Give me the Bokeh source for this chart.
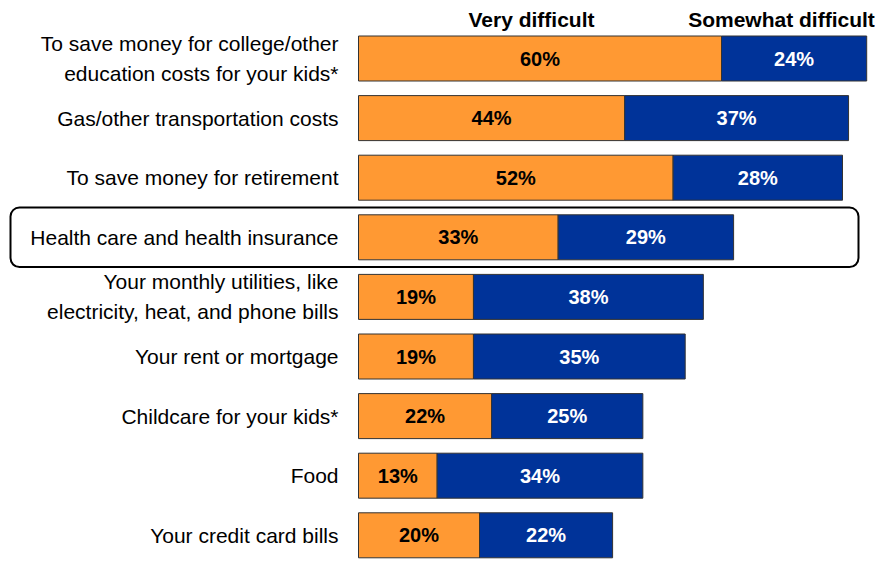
from bokeh.plotting import figure
from bokeh.models import ColumnDataSource, Range1d, Label, BoxAnnotation
from bokeh.core.properties import value
from bokeh.embed import file_html
from bokeh.resources import INLINE

# ---- data ----
categories = [
    "To save money for college/other\neducation costs for your kids*",
    "Gas/other transportation costs",
    "To save money for retirement",
    "Health care and health insurance",
    "Your monthly utilities, like\nelectricity, heat, and phone bills",
    "Your rent or mortgage",
    "Childcare for your kids*",
    "Food",
    "Your credit card bills",
]
very_difficult = [60, 44, 52, 33, 19, 19, 22, 13, 20]
somewhat_difficult = [24, 37, 28, 29, 38, 35, 25, 34, 22]
series_names = ["Very difficult", "Somewhat difficult"]
highlight_category = "Health care and health insurance"

# ---- styles ----
ORANGE = "#FF9933"
BLUE = "#003399"
FONT = "Liberation Sans"

W, H = 875, 560
PX_PER_PCT = 6.05
ZERO_PX = 358
ROW_PX = 59.6
FIRST_ROW_PX = 58

rows = list(range(len(categories)))
totals = [v + s for v, s in zip(very_difficult, somewhat_difficult)]

src = ColumnDataSource(dict(
    y=rows,
    cat=categories,
    vend=very_difficult,
    send=totals,
    vmid=[v / 2 for v in very_difficult],
    smid=[v + s / 2 for v, s in zip(very_difficult, somewhat_difficult)],
    vlab=[f"{v}%" for v in very_difficult],
    slab=[f"{s}%" for s in somewhat_difficult],
))


def px_x(px):
    return (px - ZERO_PX) / PX_PER_PCT


def px_y(px):
    return (px - FIRST_ROW_PX) / ROW_PX


p = figure(width=W, height=H, output_backend="svg", toolbar_location=None,
           x_range=Range1d(px_x(0), px_x(W)), y_range=Range1d(px_y(H), px_y(0)),
           min_border=0, outline_line_color=None, background_fill_color="white",
           border_fill_color="white")
p.axis.visible = False
p.grid.visible = False

# highlight box around the chosen row
hi = categories.index(highlight_category)
box = BoxAnnotation(left=px_x(10), right=px_x(858),
                    top=hi - 0.5, bottom=hi + 0.5,
                    fill_color=None, fill_alpha=0, line_color="black",
                    line_alpha=1, line_width=2, border_radius=9)
p.add_layout(box)

bar_h = 45 / ROW_PX
p.hbar(y="y", left=0, right="vend", height=bar_h, source=src,
       fill_color=ORANGE, line_color="#333333", line_width=1)
p.hbar(y="y", left="vend", right="send", height=bar_h, source=src,
       fill_color=BLUE, line_color="#333333", line_width=1)

p.text(x="vmid", y="y", text="vlab", source=src, text_align="center",
       text_baseline="middle", text_font=value(FONT), text_font_size="20px",
       text_font_style="bold", text_color="black")
p.text(x="smid", y="y", text="slab", source=src, text_align="center",
       text_baseline="middle", text_font=value(FONT), text_font_size="20px",
       text_font_style="bold", text_color="white")

p.text(x=px_x(338), y="y", text="cat", source=src, text_align="right",
       text_baseline="middle", text_font=value(FONT), text_font_size="21px",
       text_color="black", text_line_height=1.3)

# headers
p.add_layout(Label(x=px_x(531), y=px_y(18.5),
                   text=series_names[0], text_align="center", text_baseline="middle",
                   text_font=FONT, text_font_size="21px", text_font_style="bold",
                   text_color="black"))
p.add_layout(Label(x=px_x(781), y=px_y(18.5),
                   text=series_names[1], text_align="center", text_baseline="middle",
                   text_font=FONT, text_font_size="21px", text_font_style="bold",
                   text_color="black"))

open("out.html", "w").write(file_html(p, INLINE))
